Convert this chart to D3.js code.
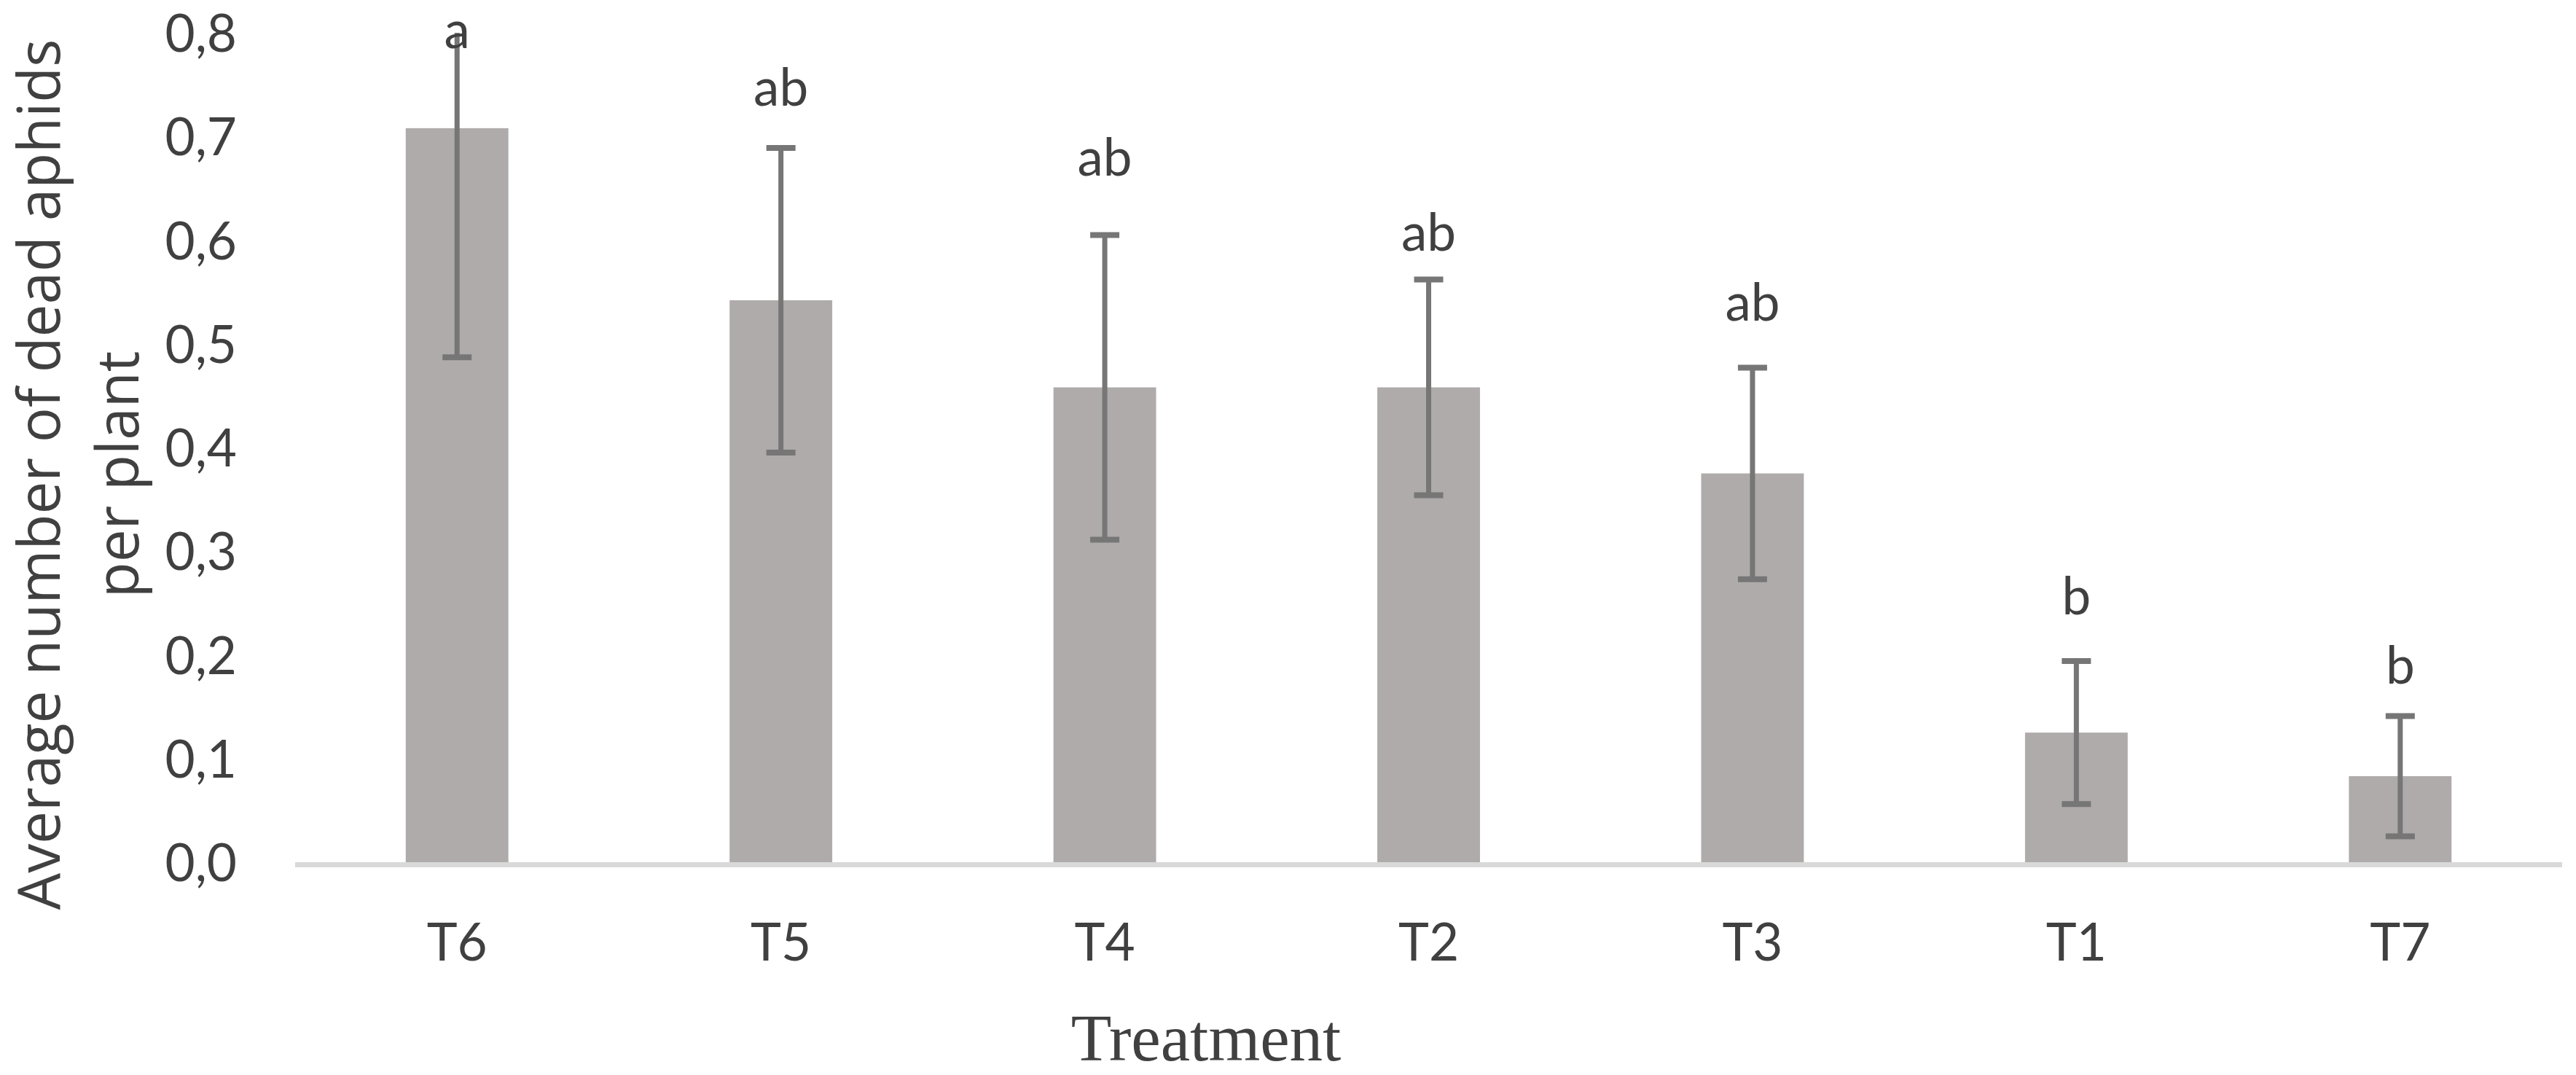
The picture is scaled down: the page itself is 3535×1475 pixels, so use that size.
<!DOCTYPE html>
<html>
<head>
<meta charset="utf-8">
<script src="https://cdn.jsdelivr.net/npm/d3@7"></script>
<style>
  body { margin: 0; background: #fff; }
  text { fill: #404040; }
  .tick-label, .letter { font-family: Lato, "Open Sans", sans-serif; font-size: 71px; }
  .y-title { font-family: "Open Sans", sans-serif; font-size: 80px; }
  .x-title { font-family: "Liberation Serif", "Times New Roman", serif; font-size: 91px; }
</style>
</head>
<body>
<div id="chart"></div>
<script>
// values
const treatments = ['T6', 'T5', 'T4', 'T2', 'T3', 'T1', 'T7'];
const means      = [0.708, 0.542, 0.458, 0.458, 0.375, 0.125, 0.083];
const errors     = [0.221, 0.147, 0.147, 0.104, 0.102, 0.069, 0.058];
const letters    = ['a', 'ab', 'ab', 'ab', 'ab', 'b', 'b'];
// height (in data units) of the baseline of each significance letter
const letterAt   = [0.785, 0.730, 0.662, 0.590, 0.522, 0.239, 0.172];
const yTicks     = [0, 0.1, 0.2, 0.3, 0.4, 0.5, 0.6, 0.7, 0.8];

class BarChart {

  constructor(_config) {
    this.config = {
      parentElement: _config.parentElement,
      containerWidth: 3535,
      containerHeight: 1475,
      plot: {left: 405, right: 3516, top: 45, bottom: 1183},
      barColor: '#afabab',
      errColor: '#767676',
      axisColor: '#d9d9d9',
      capWidth: 40
    };
    this.data = treatments.map((t, i) => ({
      name: t, mean: means[i], err: errors[i], letter: letters[i], letterAt: letterAt[i]
    }));
    this.initVis();
  }

  initVis() {
    let vis = this;
    const p = vis.config.plot;

    vis.svg = d3.select(vis.config.parentElement).append('svg')
      .attr('width', vis.config.containerWidth)
      .attr('height', vis.config.containerHeight);

    vis.xScale = d3.scaleBand()
      .domain(treatments)
      .range([p.left, p.right])
      .paddingInner(0.683)
      .paddingOuter(0.3415);

    vis.yScale = d3.scaleLinear()
      .domain([0, 0.8])
      .range([p.bottom, p.top]);

    vis.svg.append('defs').append('clipPath')
      .attr('id', 'plot-clip')
      .append('rect')
      .attr('x', 0)
      .attr('y', p.top)
      .attr('width', vis.config.containerWidth)
      .attr('height', p.bottom - p.top + 10);

    vis.chart = vis.svg.append('g');

    vis.renderVis();
  }

  renderVis() {
    let vis = this;
    const p = vis.config.plot;
    const x = vis.xScale, y = vis.yScale;

    // bars
    vis.chart.selectAll('.bar')
      .data(vis.data)
      .join('rect')
      .attr('class', 'bar')
      .attr('x', d => x(d.name))
      .attr('y', d => y(d.mean))
      .attr('width', x.bandwidth())
      .attr('height', d => y(0) - y(d.mean))
      .attr('fill', vis.config.barColor);

    // category axis line
    vis.chart.append('line')
      .attr('x1', p.left)
      .attr('x2', p.right)
      .attr('y1', y(0) + 3.5)
      .attr('y2', y(0) + 3.5)
      .attr('stroke', vis.config.axisColor)
      .attr('stroke-width', 7);

    // error bars, clipped to the plot area (T6 runs past 0,8)
    const errG = vis.chart.append('g').attr('clip-path', 'url(#plot-clip)');
    const cx = d => x(d.name) + x.bandwidth() / 2;
    const half = vis.config.capWidth / 2;

    errG.selectAll('.err-line')
      .data(vis.data)
      .join('line')
      .attr('class', 'err-line')
      .attr('x1', cx).attr('x2', cx)
      .attr('y1', d => y(d.mean + d.err))
      .attr('y2', d => y(d.mean - d.err))
      .attr('stroke', vis.config.errColor)
      .attr('stroke-width', 7);

    const caps = vis.data.flatMap(d => [d.mean + d.err, d.mean - d.err].map(v => ({d, v})));
    errG.selectAll('.err-cap')
      .data(caps)
      .join('line')
      .attr('class', 'err-cap')
      .attr('x1', c => cx(c.d) - half)
      .attr('x2', c => cx(c.d) + half)
      .attr('y1', c => y(c.v))
      .attr('y2', c => y(c.v))
      .attr('stroke', vis.config.errColor)
      .attr('stroke-width', 8);

    // significance letters
    vis.chart.selectAll('.letter')
      .data(vis.data)
      .join('text')
      .attr('class', 'letter')
      .attr('text-anchor', 'middle')
      .attr('x', cx)
      .attr('y', d => y(d.letterAt))
      .text(d => d.letter);

    // y axis labels (no line, no ticks)
    const yAxis = d3.axisLeft(y)
      .tickValues(yTicks)
      .tickSize(0)
      .tickPadding(0)
      .tickFormat(d => d3.format('.1f')(d).replace('.', ','));

    const yAxisG = vis.chart.append('g')
      .attr('transform', 'translate(325,0)')
      .call(yAxis);
    yAxisG.select('.domain').remove();
    yAxisG.selectAll('text')
      .attr('class', 'tick-label')
      .attr('fill', null)
      .attr('font-size', null)
      .attr('font-family', null)
      .attr('dy', '0.36em');

    // x axis labels
    const xAxis = d3.axisBottom(x).tickSize(0).tickPadding(0);
    const xAxisG = vis.chart.append('g')
      .attr('transform', 'translate(0,1318)')
      .call(xAxis);
    xAxisG.select('.domain').remove();
    xAxisG.selectAll('text')
      .attr('class', 'tick-label')
      .attr('fill', null)
      .attr('font-size', null)
      .attr('font-family', null)
      .attr('dy', 0);

    // axis titles
    const yTitle = vis.svg.append('text')
      .attr('class', 'y-title')
      .attr('text-anchor', 'middle')
      .attr('transform', 'translate(82,651) rotate(-90)');
    yTitle.append('tspan').attr('x', 0).attr('y', 0).text('Average number of dead aphids');
    yTitle.append('tspan').attr('x', 0).attr('y', 108).text('per plant');

    vis.svg.append('text')
      .attr('class', 'x-title')
      .attr('text-anchor', 'middle')
      .attr('x', 1655)
      .attr('y', 1455)
      .text('Treatment');
  }
}

new BarChart({parentElement: '#chart'});
</script>
</body>
</html>
